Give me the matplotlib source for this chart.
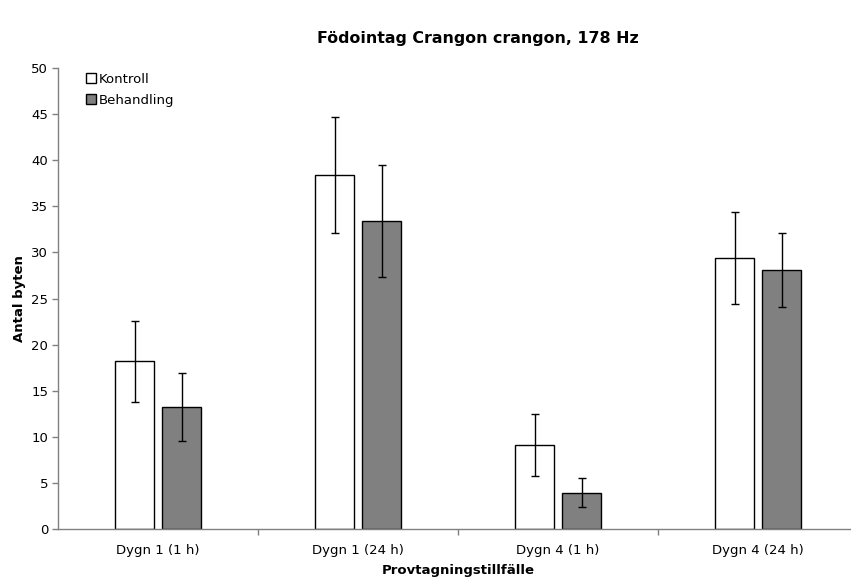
import matplotlib.pyplot as plt
import numpy as np

# Födointag per provtagningstillfälle
kategorier = ['Dygn 1 (1 h)', 'Dygn 1 (24 h)', 'Dygn 4 (1 h)', 'Dygn 4 (24 h)']
kontroll = [18.2, 38.4, 9.1, 29.4]
kontroll_fel = [4.4, 6.3, 3.35, 5.0]
behandling = [13.2, 33.4, 3.95, 28.1]
behandling_fel = [3.7, 6.1, 1.6, 4.0]

plt.rcParams['font.family'] = ['DejaVu Sans']
fs = 9.5

fig = plt.figure(figsize=(8.51, 5.80), dpi=100)
ax = fig.add_axes([58 / 851, 51 / 580, 800 / 851, 461 / 580])

x = np.arange(len(kategorier))
bredd = 0.195
offset = 0.1175

ax.bar(x - offset, kontroll, bredd, color='white', edgecolor='black',
       linewidth=1.0, label='Kontroll', zorder=2)
ax.bar(x + offset, behandling, bredd, color='#808080', edgecolor='black',
       linewidth=1.0, label='Behandling', zorder=2)
ax.errorbar(x - offset, kontroll, yerr=kontroll_fel, fmt='none', ecolor='black',
            elinewidth=1.0, capsize=2.6, capthick=1.0, zorder=3)
ax.errorbar(x + offset, behandling, yerr=behandling_fel, fmt='none', ecolor='black',
            elinewidth=1.0, capsize=2.6, capthick=1.0, zorder=3)

ax.set_xlim(-0.5, 3.5)
ax.set_ylim(0, 50)
ax.set_yticks(np.arange(0, 51, 5))

# kategorigränser som streck, etiketter i mitten
ax.set_xticks([0.5, 1.5, 2.5])
ax.set_xticklabels([])
ax.set_xticks(x, minor=True)
ax.set_xticklabels(kategorier, minor=True)
ax.tick_params(axis='x', which='minor', length=0, pad=11, labelsize=fs)
ax.tick_params(axis='x', which='major', length=4, color='#808080', width=1.0)
ax.tick_params(axis='y', length=4, color='#808080', width=1.0, labelsize=fs, pad=3)

for s in ['top', 'right']:
    ax.spines[s].set_visible(False)
for s in ['left', 'bottom']:
    ax.spines[s].set_color('#808080')
    ax.spines[s].set_linewidth(1.0)

ax.set_xlabel('Provtagningstillfälle', fontsize=fs, weight='bold', labelpad=5)
ax.set_ylabel('Antal byten', fontsize=fs, weight='bold', labelpad=4)

fig.text(478 / 851, 1 - 38 / 580, 'Födointag Crangon crangon, 178 Hz',
         ha='center', va='center', fontsize=11.4, weight='bold')

leg = ax.legend(loc='upper left', bbox_to_anchor=(0.023, 1.01), frameon=False,
                fontsize=fs, handlelength=0.75, handleheight=0.75,
                handletextpad=0.25, labelspacing=0.6, borderaxespad=0.3)

fig.savefig('out.png', dpi=100, facecolor='white')
